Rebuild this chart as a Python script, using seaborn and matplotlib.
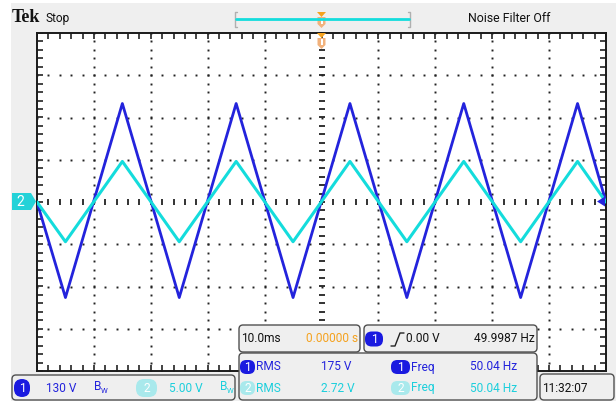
import numpy as np
import pandas as pd
import matplotlib
matplotlib.use("Agg")
import matplotlib.pyplot as plt
import seaborn as sns
from matplotlib.patches import Rectangle, FancyBboxPatch, Polygon

time_ms = [-50, -45, -35, -25, -15, -5, 5, 15, 25, 35, 45, 50]
ch1_volts = [0, -294, 303, -294, 303, -294, 303, -294, 303, -294, 303, 0]
ch2_volts = [0, -4.7, 4.8, -4.7, 4.8, -4.7, 4.8, -4.7, 4.8, -4.7, 4.8, 0]
ch1_scale = 130.0   # V/div
ch2_scale = 5.0     # V/div

time_per_div = "10.0ms"
trig_pos = "0.00000 s"
trig_level = "0.00 V"
trig_freq = "49.9987 Hz"
meas_rms = ["175 V", "2.72 V"]
meas_freq = ["50.04 Hz", "50.04 Hz"]
ch_scale_labels = ["130 V", "5.00 V"]
clock = "11:32:07"

BLUE = "#2323dc"
CYAN = "#14dcdc"
CYAN_TXT = "#1ccfdc"
PALE_CYAN = "#a9e9ec"
ORANGE = "#f5a21e"
PALE_ORANGE = "#f2b27c"
GRAY_BG = "#efefef"
BORDER = "#505050"

NARROW = ["Roboto", "DejaVu Sans"]
FS = 8.6

sns.set_theme(style="white")
plt.rcParams["font.family"] = NARROW

W, H = 616, 401
fig = plt.figure(figsize=(W / 100, H / 100), dpi=100)
fig.patch.set_facecolor("white")

# background axes (pixel coords, y measured from top)
bg = fig.add_axes([0, 0, 1, 1], zorder=0)
bg.set_xlim(0, W); bg.set_ylim(H, 0); bg.axis("off")
bg.add_patch(Rectangle((11, 3), W - 11, H - 3, facecolor=GRAY_BG, edgecolor="none"))

# main graticule axes
L, T, R, B = 37, 33, 606, 371
ax = fig.add_axes([L / W, 1 - B / H, (R - L) / W, (B - T) / H], zorder=1)
ax.set_facecolor("white")
ax.set_xlim(-50, 50); ax.set_ylim(-4, 4)
ax.set_xticks([]); ax.set_yticks([])
for s in ax.spines.values():
    s.set_visible(True); s.set_color("#1a1a1a"); s.set_linewidth(1.4)

# graticule dots
fine_x = np.arange(-50, 50.01, 2)
fine_y = np.arange(-4, 4.01, 0.2)
for gx in range(-40, 41, 10):
    if gx == 0:
        continue
    ax.plot(np.full_like(fine_y, gx), fine_y, ls="none", marker="s", ms=1.4,
            color="#222222", mew=0, zorder=2)
for gy in range(-3, 4):
    if gy == 0:
        continue
    ax.plot(fine_x, np.full_like(fine_x, gy), ls="none", marker="s", ms=1.4,
            color="#222222", mew=0, zorder=2)
# centre cross tick marks
ax.plot(fine_x, np.zeros_like(fine_x), ls="none", marker="|", ms=5, mew=1.3,
        color="#222222", zorder=2)
ax.plot(np.zeros_like(fine_y), fine_y, ls="none", marker="_", ms=5, mew=1.3,
        color="#222222", zorder=2)
# edge ticks (clipped so only the inner half shows)
for yy in (-4, 4):
    ax.plot(fine_x, np.full_like(fine_x, yy), ls="none", marker="|", ms=9, mew=1.2,
            color="#222222", zorder=2, clip_on=True)
for xx in (-50, 50):
    ax.plot(np.full_like(fine_y, xx), fine_y, ls="none", marker="_", ms=9, mew=1.2,
            color="#222222", zorder=2, clip_on=True)

# waveforms
df = pd.DataFrame({
    "t": time_ms * 2,
    "div": [v / ch1_scale for v in ch1_volts] + [v / ch2_scale for v in ch2_volts],
    "ch": ["1"] * len(time_ms) + ["2"] * len(time_ms),
})
sns.lineplot(data=df[df.ch == "1"], x="t", y="div", color=BLUE, lw=2.0,
             estimator=None, sort=False, ax=ax, zorder=3)
sns.lineplot(data=df[df.ch == "2"], x="t", y="div", color=CYAN, lw=2.2,
             estimator=None, sort=False, ax=ax, zorder=4)
ax.set_xlabel(""); ax.set_ylabel("")
ax.set_xlim(-50, 50); ax.set_ylim(-4, 4)

# overlay axes for the instrument decorations
ov = fig.add_axes([0, 0, 1, 1], zorder=5)
ov.set_xlim(0, W); ov.set_ylim(H, 0); ov.axis("off")
ov.patch.set_alpha(0)


def rbox(x0, y0, x1, y1, fc=GRAY_BG, ec=BORDER, lw=1.0, r=4):
    ov.add_patch(FancyBboxPatch((x0, y0), x1 - x0, y1 - y0,
                                boxstyle=f"round,pad=0,rounding_size={r}",
                                facecolor=fc, edgecolor=ec, lw=lw))


def badge(x0, x1, yc, h, fc, label):
    ov.add_patch(FancyBboxPatch((x0, yc - h / 2), x1 - x0, h,
                                boxstyle=f"round,pad=0,rounding_size={h / 2.2}",
                                facecolor=fc, edgecolor="none"))
    ov.text((x0 + x1) / 2, yc + 0.5, label, color="white", fontsize=FS,
            ha="center", va="center", family=NARROW)


def txt(x, y, s, color="#111111", size=FS, ha="left", **kw):
    ov.text(x, y, s, color=color, fontsize=size, ha=ha, va="center",
            family=NARROW, **kw)


# top bar
ov.text(12, 18, "Tek", fontsize=13, fontweight="bold", va="center",
        family=["Liberation Serif", "DejaVu Serif"], color="#111111")
txt(45, 18.5, "Stop", size=FS)
txt(468, 18.5, "Noise Filter Off", size=FS + 0.3)
# record bracket + cyan bar
for bx, d in ((235, 1), (410, -1)):
    ov.plot([bx + 2 * d, bx, bx, bx + 2 * d], [12, 12, 27, 27], color="#b0b0b0", lw=1)
ov.plot([236, 409], [19, 19], color=CYAN, lw=2)


def trig_marker(xc, ytop):
    ov.add_patch(Polygon([[xc - 4.5, ytop], [xc + 4.5, ytop], [xc, ytop + 5]],
                         closed=True, facecolor=ORANGE, edgecolor="none"))
    ov.add_patch(Polygon([[xc - 4, ytop + 5], [xc + 4, ytop + 5], [xc + 4, ytop + 12],
                          [xc, ytop + 16], [xc - 4, ytop + 12]],
                         closed=True, facecolor=PALE_ORANGE, edgecolor="none"))
    ov.add_patch(Rectangle((xc - 1.0, ytop + 6), 2.0, 6, facecolor="white",
                           edgecolor="none"))


trig_marker(321.5, 12)
trig_marker(321.5, 33)

# left channel-2 marker
ov.add_patch(Polygon([[12, 193], [31, 193], [36, 201.5], [31, 210], [12, 210]],
                     closed=True, facecolor="#24d2d8", edgecolor="none"))
txt(20.5, 201.5, "2", color="white", size=10, ha="center")
# right trigger-level marker
ov.add_patch(Polygon([[605, 196.5], [605, 206.5], [597, 201.5]], closed=True,
                     facecolor=BLUE, edgecolor="none"))

# bottom readouts
rbox(239, 325, 360, 352)
txt(241, 339, time_per_div)
txt(358, 339, trig_pos, color=ORANGE, ha="right")
rbox(364, 325, 537, 352)
badge(365, 383, 339, 15, "#1a1ae0", "1")
ov.plot([391, 395, 400, 404], [346, 346, 333, 333], color="#222222", lw=1)
txt(406, 339, trig_level)
txt(535, 339, trig_freq, ha="right")

rbox(239, 353, 537, 400)
rows = [(367, "1", "#1a1ae0", BLUE), (388, "2", PALE_CYAN, CYAN_TXT)]
for i, (yc, lab, bcol, tcol) in enumerate(rows):
    badge(240, 255, yc, 14, bcol, lab)
    txt(256, yc, "RMS", color=tcol)
    txt(321, yc, meas_rms[i], color=tcol)
    badge(391, 410, yc, 14, bcol, lab)
    txt(411, yc, "Freq", color=tcol)
    txt(470, yc, meas_freq[i], color=tcol)

rbox(12, 375, 235, 400)
badge(14, 30, 388, 18, "#1a1ae0", "1")
txt(46, 388, ch_scale_labels[0], color=BLUE)
txt(94, 387, "B", color=BLUE)
txt(100.5, 391, "W", color=BLUE, size=5.5)
badge(136, 157, 388, 18, PALE_CYAN, "2")
txt(169, 388, ch_scale_labels[1], color=CYAN_TXT)
txt(220, 387, "B", color=CYAN_TXT)
txt(226.5, 391, "W", color=CYAN_TXT, size=5.5)

rbox(540, 374, 614, 400)
txt(542, 388.5, clock)

fig.savefig("out.png", dpi=100, facecolor=fig.get_facecolor())
